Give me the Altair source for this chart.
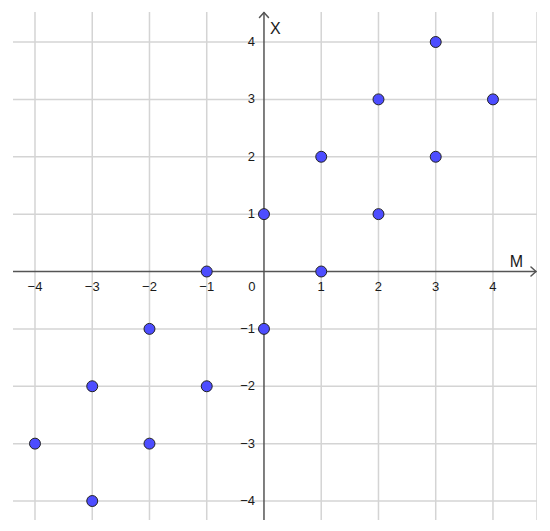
import altair as alt
import pandas as pd

# Data
point_x = [3, 2, 4, 1, 3, 0, 2, -1, 1, 0, -2, -3, -1, -4, -2, -3]
point_y = [4, 3, 3, 2, 2, 1, 1, 0, 0, -1, -1, -2, -2, -3, -3, -4]
x_ticks = [-4, -3, -2, -1, 1, 2, 3, 4]
y_ticks = [-4, -3, -2, -1, 1, 2, 3, 4]
grid_vals = [-4, -3, -2, -1, 0, 1, 2, 3, 4]
x_title = "M"
y_title = "X"

XMIN, XMAX = -4.384, 4.769
YMIN, YMAX = -4.331, 4.523
W, H = 524, 508
px_x = (XMAX - XMIN) / W
px_y = (YMAX - YMIN) / H

xs = alt.Scale(domain=[XMIN, XMAX], nice=False, zero=False)
ys = alt.Scale(domain=[YMIN, YMAX], nice=False, zero=False)

pts = pd.DataFrame({"x": point_x, "y": point_y})
vgrid = pd.DataFrame({"x": [v for v in grid_vals if v != 0]})
hgrid = pd.DataFrame({"y": [v for v in grid_vals if v != 0]})
xt = pd.DataFrame({"x": x_ticks, "y": [0] * len(x_ticks), "t": ["\u2212" + str(-v) if v < 0 else str(v) for v in x_ticks]})
yt = pd.DataFrame({"x": [0] * len(y_ticks), "y": y_ticks, "t": ["\u2212" + str(-v) if v < 0 else str(v) for v in y_ticks]})

grid_color = "#d4d4d4"
axis_color = "#555555"
text_color = "#1a1a1a"

vg = alt.Chart(vgrid).mark_rule(color=grid_color, strokeWidth=1.5).encode(
    x=alt.X("x:Q", scale=xs, axis=None))
hg = alt.Chart(hgrid).mark_rule(color=grid_color, strokeWidth=1.5).encode(
    y=alt.Y("y:Q", scale=ys, axis=None))
border = alt.Chart(pd.DataFrame({"x": [XMAX]})).mark_rule(color=grid_color, strokeWidth=1.5).encode(
    x=alt.X("x:Q", scale=xs, axis=None))

# axes lines
xaxis = alt.Chart(pd.DataFrame({"x": [XMIN], "x2": [XMAX - 1 * px_x], "y": [0]})).mark_rule(
    color=axis_color, strokeWidth=1.5).encode(
    x=alt.X("x:Q", scale=xs, axis=None), x2="x2:Q", y=alt.Y("y:Q", scale=ys, axis=None))
yaxis = alt.Chart(pd.DataFrame({"y": [YMIN], "y2": [YMAX - 0.5 * px_y], "x": [0]})).mark_rule(
    color=axis_color, strokeWidth=1.5).encode(
    y=alt.Y("y:Q", scale=ys, axis=None), y2="y2:Q", x=alt.X("x:Q", scale=xs, axis=None))

# arrow heads
tipx = XMAX - 1 * px_x
tipy = YMAX - 0.5 * px_y
arr = pd.DataFrame({
    "x": [tipx - 5 * px_x, tipx - 5 * px_x, -4.5 * px_x, 4.5 * px_x],
    "y": [4.5 * px_y, -4.5 * px_y, tipy - 5 * px_y, tipy - 5 * px_y],
    "x2": [tipx, tipx, 0, 0],
    "y2": [0, 0, tipy, tipy],
})
arrows = alt.Chart(arr).mark_rule(color=axis_color, strokeWidth=1.5, strokeCap="round").encode(
    x=alt.X("x:Q", scale=xs, axis=None), y=alt.Y("y:Q", scale=ys, axis=None), x2="x2:Q", y2="y2:Q")

font = "Liberation Sans"
xlab = alt.Chart(xt).mark_text(font=font, fontSize=13, color=text_color, dy=15, baseline="middle").encode(
    x=alt.X("x:Q", scale=xs, axis=None), y=alt.Y("y:Q", scale=ys, axis=None), text="t:N")
ylab = alt.Chart(yt).mark_text(font=font, fontSize=13, color=text_color, dx=-9, align="right", baseline="middle").encode(
    x=alt.X("x:Q", scale=xs, axis=None), y=alt.Y("y:Q", scale=ys, axis=None), text="t:N")
zero = alt.Chart(pd.DataFrame({"x": [0], "y": [0], "t": ["0"]})).mark_text(
    font=font, fontSize=13, color=text_color, dx=-12, dy=15, baseline="middle").encode(
    x=alt.X("x:Q", scale=xs, axis=None), y=alt.Y("y:Q", scale=ys, axis=None), text="t:N")

xname = alt.Chart(pd.DataFrame({"x": [XMAX], "y": [0], "t": [x_title]})).mark_text(
    font=font, fontSize=16, color=text_color, dx=-14, dy=-10, align="right", baseline="middle").encode(
    x=alt.X("x:Q", scale=xs, axis=None), y=alt.Y("y:Q", scale=ys, axis=None), text="t:N")
yname = alt.Chart(pd.DataFrame({"x": [0], "y": [YMAX], "t": [y_title]})).mark_text(
    font=font, fontSize=16, color=text_color, dx=6, dy=17, align="left", baseline="middle").encode(
    x=alt.X("x:Q", scale=xs, axis=None), y=alt.Y("y:Q", scale=ys, axis=None), text="t:N")

points = alt.Chart(pts).mark_point(filled=True, shape="circle", size=120, fill="#4d4dff",
                                   stroke="#222222", strokeWidth=1, opacity=1).encode(
    x=alt.X("x:Q", scale=xs, axis=None), y=alt.Y("y:Q", scale=ys, axis=None))

chart = alt.layer(vg, hg, border, xaxis, yaxis, arrows, xlab, ylab, zero, xname, yname, points).properties(
    width=W, height=H,
    autosize=alt.AutoSizeParams(type="none"),
    padding={"left": 5, "top": 4, "right": 0, "bottom": 0},
).configure_view(stroke=None)

chart.save("out.html", embed_options={"renderer": "svg", "actions": False})
